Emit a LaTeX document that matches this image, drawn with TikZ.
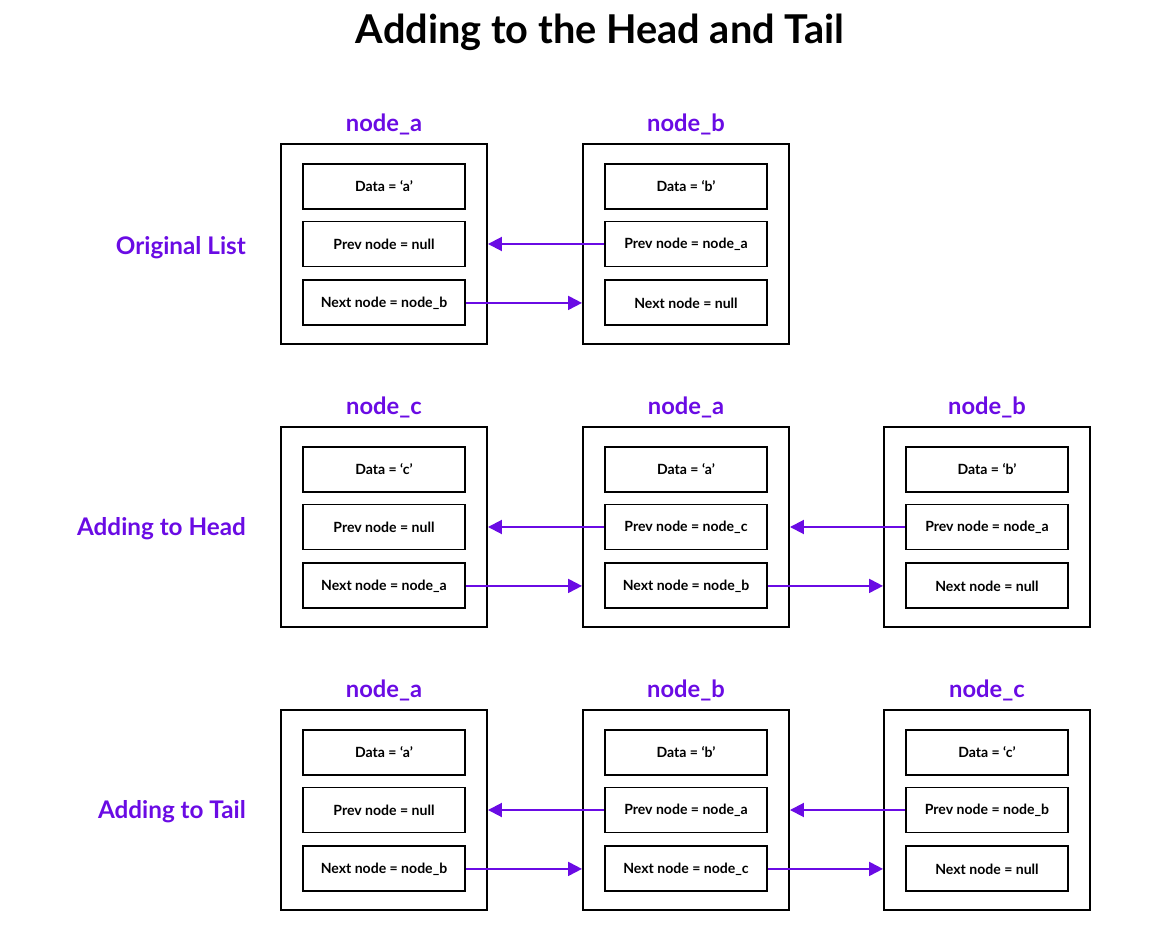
\documentclass[tikz,border=0pt]{standalone}
\usepackage{fontspec}
\setmainfont{Lato}
\usepackage{xcolor}
\usetikzlibrary{positioning}
\usetikzlibrary{arrows.meta}
\definecolor{listpurple}{HTML}{6A0BE4}

\begin{document}
\begin{tikzpicture}[
  font=\bfseries,
  listbox/.style={draw, line width=1.1pt, minimum width=4.12cm, minimum height=4cm},
  field/.style={draw, line width=1.1pt, minimum width=3.24cm, minimum height=0.9cm, font=\fontsize{8}{9}\selectfont\bfseries},
  tag/.style={text=listpurple, font=\fontsize{13.5}{15}\selectfont\bfseries},
  rowlabel/.style={text=listpurple, font=\fontsize{13.8}{15}\selectfont\bfseries, anchor=east},
  link/.style={-{Triangle[length=2.8mm, width=2.8mm]}, line width=1.1pt, listpurple}
]
\useasboundingbox (0,0) rectangle (23.32,-18.8);

\node[font=\fontsize{22.6}{26}\selectfont\bfseries] (title) at (12,-0.64) {Adding to the Head and Tail};

% original list
\node[listbox] (orig_a) at (7.68,-4.88) {};
\node[field] (orig_a_prev) at (orig_a) {Prev node = null};
\node[field, above=0.22cm of orig_a_prev] (orig_a_data) {Data = `a'};
\node[field, below=0.24cm of orig_a_prev] (orig_a_next) {Next node = node\_b};
\node[tag, above=0.04cm of orig_a] (orig_a_tag) {node\_a};

\node[listbox] (orig_b) at (13.72,-4.88) {};
\node[field] (orig_b_prev) at (orig_b) {Prev node = node\_a};
\node[field, above=0.22cm of orig_b_prev] (orig_b_data) {Data = `b'};
\node[field, below=0.24cm of orig_b_prev] (orig_b_next) {Next node = null};
\node[tag, above=0.04cm of orig_b] (orig_b_tag) {node\_b};

\node[rowlabel, left=0.56cm of orig_a, yshift=-0.07cm] (orig_label) {Original List};

\draw[link] (orig_b_prev.west) -- (orig_b_prev.west -| orig_a.east);
\draw[link] (orig_a_next.east) -- (orig_a_next.east -| orig_b.west);

% adding to head
\node[listbox] (head_c) at (7.68,-10.54) {};
\node[field] (head_c_prev) at (head_c) {Prev node = null};
\node[field, above=0.22cm of head_c_prev] (head_c_data) {Data = `c'};
\node[field, below=0.24cm of head_c_prev] (head_c_next) {Next node = node\_a};
\node[tag, above=0.04cm of head_c] (head_c_tag) {node\_c};

\node[listbox] (head_a) at (13.72,-10.54) {};
\node[field] (head_a_prev) at (head_a) {Prev node = node\_c};
\node[field, above=0.22cm of head_a_prev] (head_a_data) {Data = `a'};
\node[field, below=0.24cm of head_a_prev] (head_a_next) {Next node = node\_b};
\node[tag, above=0.04cm of head_a] (head_a_tag) {node\_a};

\node[listbox] (head_b) at (19.74,-10.54) {};
\node[field] (head_b_prev) at (head_b) {Prev node = node\_a};
\node[field, above=0.22cm of head_b_prev] (head_b_data) {Data = `b'};
\node[field, below=0.24cm of head_b_prev] (head_b_next) {Next node = null};
\node[tag, above=0.04cm of head_b] (head_b_tag) {node\_b};

\node[rowlabel, left=0.56cm of head_c, yshift=-0.04cm] (head_label) {Adding to Head};

\draw[link] (head_a_prev.west) -- (head_a_prev.west -| head_c.east);
\draw[link] (head_b_prev.west) -- (head_b_prev.west -| head_a.east);
\draw[link] (head_c_next.east) -- (head_c_next.east -| head_a.west);
\draw[link] (head_a_next.east) -- (head_a_next.east -| head_b.west);

% adding to tail
\node[listbox] (tail_a) at (7.68,-16.2) {};
\node[field] (tail_a_prev) at (tail_a) {Prev node = null};
\node[field, above=0.22cm of tail_a_prev] (tail_a_data) {Data = `a'};
\node[field, below=0.24cm of tail_a_prev] (tail_a_next) {Next node = node\_b};
\node[tag, above=0.04cm of tail_a] (tail_a_tag) {node\_a};

\node[listbox] (tail_b) at (13.72,-16.2) {};
\node[field] (tail_b_prev) at (tail_b) {Prev node = node\_a};
\node[field, above=0.22cm of tail_b_prev] (tail_b_data) {Data = `b'};
\node[field, below=0.24cm of tail_b_prev] (tail_b_next) {Next node = node\_c};
\node[tag, above=0.04cm of tail_b] (tail_b_tag) {node\_b};

\node[listbox] (tail_c) at (19.74,-16.2) {};
\node[field] (tail_c_prev) at (tail_c) {Prev node = node\_b};
\node[field, above=0.22cm of tail_c_prev] (tail_c_data) {Data = `c'};
\node[field, below=0.24cm of tail_c_prev] (tail_c_next) {Next node = null};
\node[tag, above=0.04cm of tail_c] (tail_c_tag) {node\_c};

\node[rowlabel, left=0.56cm of tail_a, yshift=-0.04cm] (tail_label) {Adding to Tail};

\draw[link] (tail_b_prev.west) -- (tail_b_prev.west -| tail_a.east);
\draw[link] (tail_c_prev.west) -- (tail_c_prev.west -| tail_b.east);
\draw[link] (tail_a_next.east) -- (tail_a_next.east -| tail_b.west);
\draw[link] (tail_b_next.east) -- (tail_b_next.east -| tail_c.west);

\end{tikzpicture}
\end{document}
